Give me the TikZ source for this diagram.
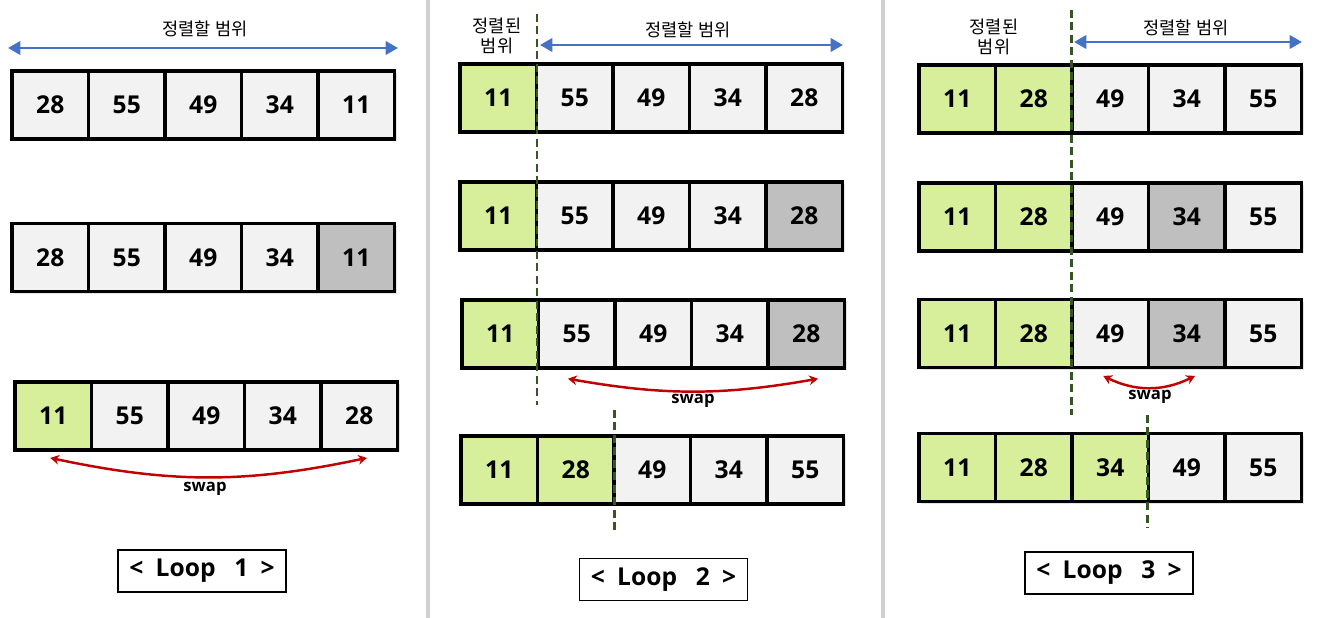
\documentclass[tikz,border=0pt]{standalone}
\usepackage{fontspec}
\setmainfont{Open Sans}
\newfontfamily\kr{Noto Sans CJK KR}
\usetikzlibrary{arrows.meta,shadows}
\definecolor{cg}{HTML}{F2F2F2}
\definecolor{cd}{HTML}{BFBFBF}
\definecolor{cgr}{HTML}{D7EF9B}
\definecolor{rangeblue}{HTML}{4472C4}
\definecolor{swapred}{HTML}{C00000}
\definecolor{sepgreen}{HTML}{375623}
\definecolor{divgray}{HTML}{D0D0D0}
\newcommand\cellrow[4]{%
  \foreach \v/\f [count=\i] in {#4} {
    \node[cellbox, fill=\f] (#1\i) at ({#2+38.25+76.5*(\i-1)}, #3) {\v};
  }}
\tikzset{
  cellbox/.style={draw=black, line width=2.2pt, minimum width=1.53cm, minimum height=1.36cm,
    inner sep=0pt, font=\fontsize{14}{16}\selectfont\bfseries,
    drop shadow={opacity=0.22, shadow xshift=1.3pt, shadow yshift=-1.3pt}},
  rangearrow/.style={draw=rangeblue, line width=1.7pt, {Triangle[length=7pt,width=7.5pt]}-{Triangle[length=7pt,width=7.5pt]}},
  swaparrow/.style={draw=swapred, line width=1.4pt, {Stealth[length=5pt,width=5.5pt]}-{Stealth[length=5pt,width=5.5pt]}},
  sepline/.style={draw=sepgreen, line width=1.7pt, dash pattern=on 4.5pt off 2.6pt},
  divider/.style={draw=divgray, line width=2.3pt},
  krlabel/.style={font=\kr\fontsize{10}{11}\selectfont, inner sep=0pt, align=center},
  swaplabel/.style={font=\fontsize{9.5}{11}\selectfont\bfseries, inner sep=0pt},
  loopbox/.style={draw=black, line width=0.8pt, minimum width=3.36cm, minimum height=0.84cm,
    inner sep=0pt, font=\fontsize{14}{16}\selectfont\bfseries},
}
\begin{document}
\begin{tikzpicture}[x=0.02cm, y=-0.02cm]
\useasboundingbox[fill=white] (0,0) rectangle (1322,618);
% dividers
\coordinate (d1t) at (428,0); \coordinate (d1b) at (428,618);
\coordinate (d2t) at (883,0); \coordinate (d2b) at (883,618);
\draw[divider] (d1t) -- (d1b);
\draw[divider] (d2t) -- (d2b);

% ---------- Panel 1 ----------
\node[krlabel] (t1) at (205,29) {정렬할 범위};
\coordinate (b1l) at (8,48); \coordinate (b1r) at (398,48);
\draw[rangearrow] (b1l) -- (b1r);
\cellrow{pa}{12}{105}{28/cg,55/cg,49/cg,34/cg,11/cg}
\cellrow{pb}{12}{257.5}{28/cg,55/cg,49/cg,34/cg,11/cd}
\cellrow{pc}{15}{416}{11/cgr,55/cg,49/cg,34/cg,28/cg}
\draw[swaparrow] ([xshift=-1.7pt,yshift=-3.4pt]pc1.south) to[bend right=12] ([xshift=4.4pt,yshift=-3.4pt]pc5.south);
\node[swaplabel] (s1) at (205,489) {swap};
\node[loopbox] (l1) at (202,571) {<\enspace Loop\enspace\ 1\enspace >};

% ---------- Panel 2 ----------
\node[krlabel] (k2) at (497,36) {정렬된\\범위};
\node[krlabel] (t2) at (688,30) {정렬할 범위};
\coordinate (b2l) at (540,45); \coordinate (b2r) at (843,45);
\draw[rangearrow] (b2l) -- (b2r);
\cellrow{qa}{460}{98}{11/cgr,55/cg,49/cg,34/cg,28/cg}
\cellrow{qb}{460}{216}{11/cgr,55/cg,49/cg,34/cg,28/cd}
\cellrow{qc}{462}{334}{11/cgr,55/cg,49/cg,34/cg,28/cd}
\cellrow{qd}{461}{470}{11/cgr,28/cgr,49/cg,34/cg,55/cg}
\draw[swaparrow] ([xshift=-5pt,yshift=-5pt]qc2.south) to[bend right=10] ([xshift=6.7pt,yshift=-5pt]qc5.south);
\node[swaplabel] (s2) at (693,401) {swap};
\coordinate (v2at) at (537,14); \coordinate (v2ab) at (537,405);
\coordinate (v2bt) at (614,410); \coordinate (v2bb) at (614,533);
\draw[sepline] (v2at) -- (v2ab);
\draw[sepline] (v2bt) -- (v2bb);
\node[loopbox] (l2) at (663.5,579.5) {<\enspace Loop\enspace\ 2\enspace >};

% ---------- Panel 3 ----------
\node[krlabel] (k3) at (994,37) {정렬된\\범위};
\node[krlabel] (t3) at (1186,28) {정렬할 범위};
\coordinate (b3l) at (1074,42); \coordinate (b3r) at (1302,42);
\draw[rangearrow] (b3l) -- (b3r);
\cellrow{ra}{919}{99}{11/cgr,28/cgr,49/cg,34/cg,55/cg}
\cellrow{rb}{919}{217}{11/cgr,28/cgr,49/cg,34/cd,55/cg}
\cellrow{rc}{919}{333.5}{11/cgr,28/cgr,49/cg,34/cd,55/cg}
\cellrow{rd}{919}{467.5}{11/cgr,28/cgr,34/cgr,49/cg,55/cg}
\draw[swaparrow] ([xshift=-4pt,yshift=-3.7pt]rc3.south) to[bend right=26] ([xshift=4.7pt,yshift=-3.7pt]rc4.south);
\node[swaplabel] (s3) at (1150,397) {swap};
\coordinate (v3at) at (1071,10); \coordinate (v3ab) at (1071,415);
\coordinate (v3bt) at (1147,415); \coordinate (v3bb) at (1147,528);
\draw[sepline] (v3at) -- (v3ab);
\draw[sepline] (v3bt) -- (v3bb);
\node[loopbox] (l3) at (1109,573) {<\enspace Loop\enspace\ 3\enspace >};
\end{tikzpicture}
\end{document}
